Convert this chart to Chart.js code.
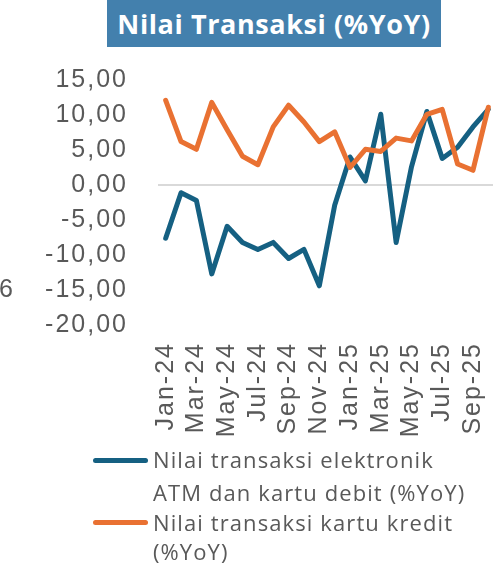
<!DOCTYPE html>
<html>
<head>
<meta charset="utf-8">
<script src="https://cdn.jsdelivr.net/npm/chart.js@4"></script>
<style>
  html, body { margin: 0; padding: 0; background: #fff; width: 493px; height: 573px; overflow: hidden; }
  #wrap { position: relative; width: 493px; height: 573px; overflow: hidden; }
  #cv { position: absolute; left: 0; top: 0; }
  .title { position: absolute; left: 107px; top: 0; width: 334px; height: 47px; background: #4380AD;
           color: #fff; font-family: "Open Sans", sans-serif; font-weight: 700; font-size: 27px;
           letter-spacing: 0.6px; line-height: 47px; text-align: center; white-space: nowrap; }
  .lg { position: absolute; left: 153px; font-family: "Open Sans", sans-serif; font-size: 22px;
        letter-spacing: 1.1px; color: #595959; white-space: nowrap; line-height: 30px; }
  .mk { position: absolute; left: 93px; width: 55px; height: 5px; border-radius: 3px; }
  .stray { position: absolute; left: -1px; top: 273px; font-family: "Liberation Sans", Arial, sans-serif;
           font-size: 25px; color: #595959; letter-spacing: 2px; line-height: 30px; }
</style>
</head>
<body>
<div id="wrap">
  <canvas id="cv" width="496" height="573" style="width:496px;height:573px"></canvas>
  <div class="title">Nilai Transaksi (%YoY)</div>
  <div class="stray">6</div>
  <div class="mk" style="top:458px;background:#156082"></div>
  <div class="lg" style="top:444px">Nilai transaksi elektronik</div>
  <div class="lg" style="top:477px">ATM dan kartu debit (%YoY)</div>
  <div class="mk" style="top:520px;background:#E97132"></div>
  <div class="lg" style="top:507px">Nilai transaksi kartu kredit</div>
  <div class="lg" style="top:536px">(%YoY)</div>
</div>
<script>
const categories = ["Jan-24","Feb-24","Mar-24","Apr-24","May-24","Jun-24","Jul-24","Aug-24","Sep-24","Oct-24","Nov-24","Dec-24",
                    "Jan-25","Feb-25","Mar-25","Apr-25","May-25","Jun-25","Jul-25","Aug-25","Sep-25","Oct-25"];
const debitATM = [-7.6,-1.1,-2.2,-12.7,-5.9,-8.2,-9.2,-8.2,-10.5,-9.2,-14.4,-2.9,
                  4.0,0.6,10.1,-8.2,2.6,10.5,3.8,5.4,8.3,10.8];
const kartuKredit = [12.1,6.2,5.1,11.8,7.9,4.1,2.9,8.3,11.4,9.0,6.2,7.6,
                     2.5,5.1,4.8,6.7,6.3,10.1,10.8,3.0,2.1,11.1];
const yTicks = [-20,-15,-10,-5,0,5,10,15];
const seriesNames = ["Nilai transaksi elektronik ATM dan kartu debit (%YoY)", "Nilai transaksi kartu kredit (%YoY)"];

const spacingPlugin = {
  id: 'spacing',
  beforeUpdate(chart) { chart.ctx.letterSpacing = '2px'; },
  beforeDraw(chart) { chart.ctx.letterSpacing = '2px'; }
};

new Chart(document.getElementById('cv'), {
  type: 'line',
  data: {
    labels: categories,
    datasets: [
      { label: seriesNames[0], data: debitATM, borderColor: '#156082', backgroundColor: '#156082',
        borderWidth: 5, pointRadius: 0, tension: 0, borderJoinStyle: 'round', borderCapStyle: 'round', order: 1 },
      { label: seriesNames[1], data: kartuKredit, borderColor: '#E97132', backgroundColor: '#E97132',
        borderWidth: 5, pointRadius: 0, tension: 0, borderJoinStyle: 'round', borderCapStyle: 'round', order: 0 }
    ]
  },
  options: {
    responsive: false,
    animation: false,
    devicePixelRatio: 1,
    layout: { padding: { top: 80, left: 0, right: 0, bottom: 128 } },
    plugins: { legend: { display: false }, tooltip: { enabled: false }, title: { display: false } },
    scales: {
      x: {
        type: 'category',
        offset: true,
        grid: { display: false, drawTicks: false },
        border: { display: false },
        ticks: {
          autoSkip: false, maxRotation: 90, minRotation: 90, padding: 17,
          color: '#595959', font: { family: '"Liberation Sans", Arial, sans-serif', size: 25 },
          callback: function(v, i) { return i % 2 === 0 ? categories[i] : ''; }
        },
        afterFit: function(s) { s.height = 120; s.paddingLeft = 0; s.paddingRight = 0; }
      },
      y: {
        min: yTicks[0], max: yTicks[yTicks.length - 1],
        afterBuildTicks: function(s) { s.ticks = yTicks.map(v => ({ value: v })); },
        grid: {
          drawTicks: false,
          color: function(c) { return c.tick && c.tick.value === 0 ? '#D9D9D9' : 'rgba(0,0,0,0)'; },
          lineWidth: 2
        },
        border: { display: false },
        ticks: {
          padding: 30, color: '#595959',
          font: { family: '"Liberation Sans", Arial, sans-serif', size: 25 },
          callback: function(v) { return v.toFixed(2).replace('.', ','); }
        },
        afterFit: function(s) { s.width = 158; s.paddingTop = 0; s.paddingBottom = 0; }
      }
    }
  },
  plugins: [spacingPlugin]
});
</script>
</body>
</html>
